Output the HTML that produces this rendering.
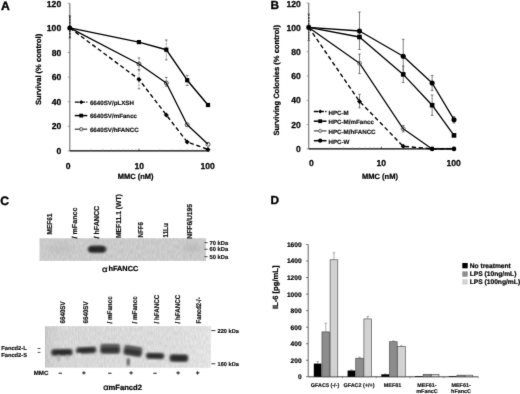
<!DOCTYPE html>
<html><head><meta charset="utf-8"><title>Figure</title>
<style>
html,body{margin:0;padding:0;background:#fff;}
body{width:520px;height:394px;overflow:hidden;font-family:"Liberation Sans",sans-serif;}
svg{display:block;text-rendering:geometricPrecision;}
</style></head><body>
<svg width="520" height="394" viewBox="0 0 520 394" font-family="Liberation Sans, sans-serif" font-weight="bold">
<rect width="520" height="394" fill="#fff"/>
<defs>
<filter id="bl1" x="-30%" y="-60%" width="160%" height="220%"><feGaussianBlur stdDeviation="1.1"/></filter>
<filter id="bl2" x="-30%" y="-60%" width="160%" height="220%"><feGaussianBlur stdDeviation="0.8"/></filter>
<filter id="bl3" x="-30%" y="-60%" width="160%" height="220%"><feGaussianBlur stdDeviation="2.5"/></filter>
<linearGradient id="g2" x1="0" x2="1" y1="0" y2="0"><stop offset="0" stop-color="#cacaca"/><stop offset="0.10" stop-color="#d6d6d6"/><stop offset="0.8" stop-color="#dcdcdc"/><stop offset="1" stop-color="#e3e3e3"/></linearGradient>
<filter id="soft" x="0" y="0" width="520" height="394" filterUnits="userSpaceOnUse" color-interpolation-filters="sRGB"><feConvolveMatrix order="3" kernelMatrix="0.012 0.07 0.012 0.07 0.672 0.07 0.012 0.07 0.012" edgeMode="duplicate" preserveAlpha="false"/></filter>
<filter id="nz" x="0" y="0" width="1" height="1" color-interpolation-filters="sRGB"><feTurbulence type="fractalNoise" baseFrequency="0.7 0.22" numOctaves="2" seed="5" result="t"/><feColorMatrix in="t" type="matrix" values="1 0 0 0 0  1 0 0 0 0  1 0 0 0 0  0 0 0 0 1" result="g"/><feComposite in="SourceGraphic" in2="g" operator="arithmetic" k1="0" k2="1" k3="0.12" k4="-0.06"/></filter>
</defs>
<g filter="url(#soft)" stroke-linecap="butt">
<text x="0.9" y="9.9" font-size="12.2" text-anchor="start" fill="#000" stroke="#000" stroke-width="0.366" >A</text>
<line x1="69.80" y1="3.30" x2="69.80" y2="150.90" stroke="#7c7c7c" stroke-width="1.2" />
<line x1="69.80" y1="150.90" x2="209.50" y2="150.90" stroke="#000" stroke-width="1.4" />
<line x1="67.80" y1="150.90" x2="69.80" y2="150.90" stroke="#7c7c7c" stroke-width="0.8" />
<text x="61.2" y="154.0" font-size="8.6" text-anchor="end" fill="#000" stroke="#000" stroke-width="0.258" >0</text>
<line x1="67.80" y1="126.30" x2="69.80" y2="126.30" stroke="#7c7c7c" stroke-width="0.8" />
<text x="61.2" y="129.4" font-size="8.6" text-anchor="end" fill="#000" stroke="#000" stroke-width="0.258" >20</text>
<line x1="67.80" y1="101.70" x2="69.80" y2="101.70" stroke="#7c7c7c" stroke-width="0.8" />
<text x="61.2" y="104.8" font-size="8.6" text-anchor="end" fill="#000" stroke="#000" stroke-width="0.258" >40</text>
<line x1="67.80" y1="77.10" x2="69.80" y2="77.10" stroke="#7c7c7c" stroke-width="0.8" />
<text x="61.2" y="80.19999999999999" font-size="8.6" text-anchor="end" fill="#000" stroke="#000" stroke-width="0.258" >60</text>
<line x1="67.80" y1="52.50" x2="69.80" y2="52.50" stroke="#7c7c7c" stroke-width="0.8" />
<text x="61.2" y="55.6" font-size="8.6" text-anchor="end" fill="#000" stroke="#000" stroke-width="0.258" >80</text>
<line x1="67.80" y1="27.90" x2="69.80" y2="27.90" stroke="#7c7c7c" stroke-width="0.8" />
<text x="61.2" y="31.000000000000007" font-size="8.6" text-anchor="end" fill="#000" stroke="#000" stroke-width="0.258" >100</text>
<line x1="67.80" y1="3.30" x2="69.80" y2="3.30" stroke="#7c7c7c" stroke-width="0.8" />
<text x="61.2" y="7.199999999999982" font-size="8.6" text-anchor="end" fill="#000" stroke="#000" stroke-width="0.258" >120</text>
<line x1="90.77" y1="149.40" x2="90.77" y2="150.90" stroke="#777" stroke-width="0.6" />
<line x1="102.92" y1="149.40" x2="102.92" y2="150.90" stroke="#777" stroke-width="0.6" />
<line x1="111.54" y1="149.40" x2="111.54" y2="150.90" stroke="#777" stroke-width="0.6" />
<line x1="118.23" y1="149.40" x2="118.23" y2="150.90" stroke="#777" stroke-width="0.6" />
<line x1="123.69" y1="149.40" x2="123.69" y2="150.90" stroke="#777" stroke-width="0.6" />
<line x1="128.31" y1="149.40" x2="128.31" y2="150.90" stroke="#777" stroke-width="0.6" />
<line x1="132.31" y1="149.40" x2="132.31" y2="150.90" stroke="#777" stroke-width="0.6" />
<line x1="135.84" y1="149.40" x2="135.84" y2="150.90" stroke="#777" stroke-width="0.6" />
<line x1="159.77" y1="149.40" x2="159.77" y2="150.90" stroke="#777" stroke-width="0.6" />
<line x1="171.92" y1="149.40" x2="171.92" y2="150.90" stroke="#777" stroke-width="0.6" />
<line x1="180.54" y1="149.40" x2="180.54" y2="150.90" stroke="#777" stroke-width="0.6" />
<line x1="187.23" y1="149.40" x2="187.23" y2="150.90" stroke="#777" stroke-width="0.6" />
<line x1="192.69" y1="149.40" x2="192.69" y2="150.90" stroke="#777" stroke-width="0.6" />
<line x1="197.31" y1="149.40" x2="197.31" y2="150.90" stroke="#777" stroke-width="0.6" />
<line x1="201.31" y1="149.40" x2="201.31" y2="150.90" stroke="#777" stroke-width="0.6" />
<line x1="204.84" y1="149.40" x2="204.84" y2="150.90" stroke="#777" stroke-width="0.6" />
<line x1="139.00" y1="148.70" x2="139.00" y2="150.90" stroke="#222" stroke-width="0.8" />
<line x1="208.00" y1="148.70" x2="208.00" y2="150.90" stroke="#222" stroke-width="0.8" />
<text x="68.2" y="168.5" font-size="8.6" text-anchor="middle" fill="#000" stroke="#000" stroke-width="0.258" >0</text>
<text x="139.2" y="168.5" font-size="8.6" text-anchor="middle" fill="#000" stroke="#000" stroke-width="0.258" >10</text>
<text x="207.7" y="168.5" font-size="8.6" text-anchor="middle" fill="#000" stroke="#000" stroke-width="0.258" >100</text>
<text x="135.6" y="178.9" font-size="7.5" text-anchor="middle" fill="#000" stroke="#000" stroke-width="0.225" >MMC (nM)</text>
<text x="40.6" y="69.4" font-size="7.6" text-anchor="middle" fill="#000" stroke="#000" stroke-width="0.228" transform="rotate(-90 40.6 69.4)" >Survival (% control)</text>
<line x1="69.80" y1="15.70" x2="69.80" y2="38.00" stroke="#2a2a2a" stroke-width="1.5" stroke-dasharray="2.2,0.7"/>
<line x1="68.50" y1="15.70" x2="71.10" y2="15.70" stroke="#5a5a5a" stroke-width="0.8" />
<line x1="68.50" y1="38.00" x2="71.10" y2="38.00" stroke="#5a5a5a" stroke-width="0.8" />
<line x1="166.30" y1="40.00" x2="166.30" y2="59.90" stroke="#7a7a7a" stroke-width="0.75" stroke-dasharray="2.2,0.7"/>
<line x1="165.00" y1="40.00" x2="167.60" y2="40.00" stroke="#5a5a5a" stroke-width="0.8" />
<line x1="165.00" y1="59.90" x2="167.60" y2="59.90" stroke="#5a5a5a" stroke-width="0.8" />
<line x1="139.00" y1="57.90" x2="139.00" y2="69.80" stroke="#7a7a7a" stroke-width="0.75" stroke-dasharray="2.2,0.7"/>
<line x1="137.70" y1="57.90" x2="140.30" y2="57.90" stroke="#5a5a5a" stroke-width="0.8" />
<line x1="137.70" y1="69.80" x2="140.30" y2="69.80" stroke="#5a5a5a" stroke-width="0.8" />
<line x1="139.00" y1="69.80" x2="139.00" y2="88.80" stroke="#7a7a7a" stroke-width="0.75" stroke-dasharray="2.2,0.7"/>
<line x1="137.70" y1="69.80" x2="140.30" y2="69.80" stroke="#5a5a5a" stroke-width="0.8" />
<line x1="137.70" y1="88.80" x2="140.30" y2="88.80" stroke="#5a5a5a" stroke-width="0.8" />
<line x1="166.30" y1="77.40" x2="166.30" y2="86.30" stroke="#7a7a7a" stroke-width="0.75" stroke-dasharray="2.2,0.7"/>
<line x1="165.00" y1="77.40" x2="167.60" y2="77.40" stroke="#5a5a5a" stroke-width="0.8" />
<line x1="165.00" y1="86.30" x2="167.60" y2="86.30" stroke="#5a5a5a" stroke-width="0.8" />
<line x1="187.20" y1="75.40" x2="187.20" y2="85.50" stroke="#7a7a7a" stroke-width="0.75" stroke-dasharray="2.2,0.7"/>
<line x1="185.90" y1="75.40" x2="188.50" y2="75.40" stroke="#5a5a5a" stroke-width="0.8" />
<line x1="185.90" y1="85.50" x2="188.50" y2="85.50" stroke="#5a5a5a" stroke-width="0.8" />
<polyline points="69.80,27.90 139.00,79.40 166.30,114.90 187.20,142.00 208.00,149.40" fill="none" stroke="#000" stroke-width="1.4" stroke-dasharray="4.2,2.8" stroke-linejoin="round"/>
<polyline points="69.80,27.90 138.90,42.10 166.30,49.70 187.20,80.20 208.00,105.00" fill="none" stroke="#000" stroke-width="1.45" stroke-linejoin="round"/>
<polyline points="69.80,27.90 139.00,64.00 166.30,83.00 187.20,124.80 208.00,144.30" fill="none" stroke="#000" stroke-width="1.3" stroke-linejoin="round"/>
<polygon points="136.50,79.40 139.00,76.90 141.50,79.40 139.00,81.90" fill="#000"/>
<polygon points="163.80,114.90 166.30,112.40 168.80,114.90 166.30,117.40" fill="#000"/>
<polygon points="184.70,142.00 187.20,139.50 189.70,142.00 187.20,144.50" fill="#000"/>
<polygon points="205.50,149.40 208.00,146.90 210.50,149.40 208.00,151.90" fill="#000"/>
<rect x="136.80" y="40.00" width="4.2" height="4.2" fill="#000"/>
<rect x="164.20" y="47.60" width="4.2" height="4.2" fill="#000"/>
<rect x="185.10" y="78.10" width="4.2" height="4.2" fill="#000"/>
<rect x="205.90" y="102.90" width="4.2" height="4.2" fill="#000"/>
<circle cx="139.00" cy="64.00" r="2.0" fill="none" stroke="#222" stroke-width="0.8"/>
<circle cx="166.30" cy="83.00" r="2.0" fill="none" stroke="#222" stroke-width="0.8"/>
<circle cx="187.20" cy="124.80" r="2.0" fill="none" stroke="#222" stroke-width="0.8"/>
<circle cx="208.00" cy="144.30" r="2.0" fill="none" stroke="#222" stroke-width="0.8"/>
<circle cx="69.80" cy="27.90" r="2.5" fill="#000" stroke="none" stroke-width="0.8"/>
<line x1="74.80" y1="102.20" x2="87.30" y2="102.20" stroke="#000" stroke-width="1.3" stroke-dasharray="4.4,1.3"/>
<polygon points="79.10,102.20 81.20,100.10 83.30,102.20 81.20,104.30" fill="#000"/>
<text x="89.9" y="105.0" font-size="6.2" text-anchor="start" fill="#111" stroke="#111" stroke-width="0.186" >6640SV/pLXSH</text>
<line x1="74.80" y1="115.60" x2="87.30" y2="115.60" stroke="#000" stroke-width="1.5" />
<rect x="79.30" y="113.70" width="3.8" height="3.8" fill="#000"/>
<text x="89.9" y="118.39999999999999" font-size="6.2" text-anchor="start" fill="#111" stroke="#111" stroke-width="0.186" >6640SV/mFancc</text>
<line x1="74.80" y1="129.20" x2="87.30" y2="129.20" stroke="#444" stroke-width="1.3" />
<circle cx="81.20" cy="129.20" r="1.7" fill="#d0d0d0" stroke="#444" stroke-width="0.8"/>
<text x="89.9" y="132.0" font-size="6.2" text-anchor="start" fill="#111" stroke="#111" stroke-width="0.186" >6640SV/hFANCC</text>
<text x="270.5" y="9.4" font-size="11.8" text-anchor="start" fill="#000" stroke="#000" stroke-width="0.354" >B</text>
<line x1="308.70" y1="3.10" x2="308.70" y2="148.90" stroke="#7c7c7c" stroke-width="1.2" />
<line x1="308.70" y1="148.90" x2="455.50" y2="148.90" stroke="#000" stroke-width="1.4" />
<line x1="306.70" y1="148.90" x2="308.70" y2="148.90" stroke="#7c7c7c" stroke-width="0.8" />
<text x="300.9" y="152.0" font-size="8.6" text-anchor="end" fill="#000" stroke="#000" stroke-width="0.258" >0</text>
<line x1="306.70" y1="124.60" x2="308.70" y2="124.60" stroke="#7c7c7c" stroke-width="0.8" />
<text x="300.9" y="127.7" font-size="8.6" text-anchor="end" fill="#000" stroke="#000" stroke-width="0.258" >20</text>
<line x1="306.70" y1="100.30" x2="308.70" y2="100.30" stroke="#7c7c7c" stroke-width="0.8" />
<text x="300.9" y="103.4" font-size="8.6" text-anchor="end" fill="#000" stroke="#000" stroke-width="0.258" >40</text>
<line x1="306.70" y1="76.00" x2="308.70" y2="76.00" stroke="#7c7c7c" stroke-width="0.8" />
<text x="300.9" y="79.1" font-size="8.6" text-anchor="end" fill="#000" stroke="#000" stroke-width="0.258" >60</text>
<line x1="306.70" y1="51.70" x2="308.70" y2="51.70" stroke="#7c7c7c" stroke-width="0.8" />
<text x="300.9" y="54.800000000000004" font-size="8.6" text-anchor="end" fill="#000" stroke="#000" stroke-width="0.258" >80</text>
<line x1="306.70" y1="27.40" x2="308.70" y2="27.40" stroke="#7c7c7c" stroke-width="0.8" />
<text x="300.9" y="30.500000000000007" font-size="8.6" text-anchor="end" fill="#000" stroke="#000" stroke-width="0.258" >100</text>
<line x1="306.70" y1="3.10" x2="308.70" y2="3.10" stroke="#7c7c7c" stroke-width="0.8" />
<text x="300.9" y="6.799999999999994" font-size="8.6" text-anchor="end" fill="#000" stroke="#000" stroke-width="0.258" >120</text>
<line x1="330.57" y1="147.40" x2="330.57" y2="148.90" stroke="#777" stroke-width="0.6" />
<line x1="343.36" y1="147.40" x2="343.36" y2="148.90" stroke="#777" stroke-width="0.6" />
<line x1="352.44" y1="147.40" x2="352.44" y2="148.90" stroke="#777" stroke-width="0.6" />
<line x1="359.48" y1="147.40" x2="359.48" y2="148.90" stroke="#777" stroke-width="0.6" />
<line x1="365.23" y1="147.40" x2="365.23" y2="148.90" stroke="#777" stroke-width="0.6" />
<line x1="370.10" y1="147.40" x2="370.10" y2="148.90" stroke="#777" stroke-width="0.6" />
<line x1="374.31" y1="147.40" x2="374.31" y2="148.90" stroke="#777" stroke-width="0.6" />
<line x1="378.03" y1="147.40" x2="378.03" y2="148.90" stroke="#777" stroke-width="0.6" />
<line x1="403.22" y1="147.40" x2="403.22" y2="148.90" stroke="#777" stroke-width="0.6" />
<line x1="416.01" y1="147.40" x2="416.01" y2="148.90" stroke="#777" stroke-width="0.6" />
<line x1="425.09" y1="147.40" x2="425.09" y2="148.90" stroke="#777" stroke-width="0.6" />
<line x1="432.13" y1="147.40" x2="432.13" y2="148.90" stroke="#777" stroke-width="0.6" />
<line x1="437.88" y1="147.40" x2="437.88" y2="148.90" stroke="#777" stroke-width="0.6" />
<line x1="442.75" y1="147.40" x2="442.75" y2="148.90" stroke="#777" stroke-width="0.6" />
<line x1="446.96" y1="147.40" x2="446.96" y2="148.90" stroke="#777" stroke-width="0.6" />
<line x1="450.68" y1="147.40" x2="450.68" y2="148.90" stroke="#777" stroke-width="0.6" />
<line x1="381.35" y1="146.70" x2="381.35" y2="148.90" stroke="#222" stroke-width="0.8" />
<line x1="454.00" y1="146.70" x2="454.00" y2="148.90" stroke="#222" stroke-width="0.8" />
<text x="311.5" y="166.1" font-size="8.6" text-anchor="middle" fill="#000" stroke="#000" stroke-width="0.258" >0</text>
<text x="381.3" y="166.1" font-size="8.6" text-anchor="middle" fill="#000" stroke="#000" stroke-width="0.258" >10</text>
<text x="453.7" y="166.1" font-size="8.6" text-anchor="middle" fill="#000" stroke="#000" stroke-width="0.258" >100</text>
<text x="380.0" y="178.9" font-size="7.5" text-anchor="middle" fill="#000" stroke="#000" stroke-width="0.225" >MMC (nM)</text>
<text x="279.0" y="80.3" font-size="7.6" text-anchor="middle" fill="#000" stroke="#000" stroke-width="0.228" transform="rotate(-90 279.0 80.3)" >Surviving Colonies (% control)</text>
<line x1="308.70" y1="14.00" x2="308.70" y2="40.60" stroke="#333" stroke-width="1.4" stroke-dasharray="2.2,0.7"/>
<line x1="307.40" y1="14.00" x2="310.00" y2="14.00" stroke="#5a5a5a" stroke-width="0.8" />
<line x1="307.40" y1="40.60" x2="310.00" y2="40.60" stroke="#5a5a5a" stroke-width="0.8" />
<line x1="359.48" y1="12.00" x2="359.48" y2="49.50" stroke="#606060" stroke-width="0.8" />
<line x1="358.23" y1="12.00" x2="360.73" y2="12.00" stroke="#5a5a5a" stroke-width="0.8" />
<line x1="358.23" y1="49.50" x2="360.73" y2="49.50" stroke="#5a5a5a" stroke-width="0.8" />
<line x1="359.48" y1="54.00" x2="359.48" y2="73.60" stroke="#606060" stroke-width="0.8" />
<line x1="358.23" y1="54.00" x2="360.73" y2="54.00" stroke="#5a5a5a" stroke-width="0.8" />
<line x1="358.23" y1="73.60" x2="360.73" y2="73.60" stroke="#5a5a5a" stroke-width="0.8" />
<line x1="359.48" y1="94.30" x2="359.48" y2="107.80" stroke="#606060" stroke-width="0.8" />
<line x1="358.23" y1="94.30" x2="360.73" y2="94.30" stroke="#5a5a5a" stroke-width="0.8" />
<line x1="358.23" y1="107.80" x2="360.73" y2="107.80" stroke="#5a5a5a" stroke-width="0.8" />
<line x1="403.22" y1="39.30" x2="403.22" y2="73.00" stroke="#606060" stroke-width="0.8" />
<line x1="401.97" y1="39.30" x2="404.47" y2="39.30" stroke="#5a5a5a" stroke-width="0.8" />
<line x1="401.97" y1="73.00" x2="404.47" y2="73.00" stroke="#5a5a5a" stroke-width="0.8" />
<line x1="403.22" y1="66.00" x2="403.22" y2="82.50" stroke="#606060" stroke-width="0.8" />
<line x1="401.97" y1="66.00" x2="404.47" y2="66.00" stroke="#5a5a5a" stroke-width="0.8" />
<line x1="401.97" y1="82.50" x2="404.47" y2="82.50" stroke="#5a5a5a" stroke-width="0.8" />
<line x1="432.13" y1="75.40" x2="432.13" y2="90.60" stroke="#606060" stroke-width="0.8" />
<line x1="430.88" y1="75.40" x2="433.38" y2="75.40" stroke="#5a5a5a" stroke-width="0.8" />
<line x1="430.88" y1="90.60" x2="433.38" y2="90.60" stroke="#5a5a5a" stroke-width="0.8" />
<line x1="432.13" y1="95.00" x2="432.13" y2="115.40" stroke="#606060" stroke-width="0.8" />
<line x1="430.88" y1="95.00" x2="433.38" y2="95.00" stroke="#5a5a5a" stroke-width="0.8" />
<line x1="430.88" y1="115.40" x2="433.38" y2="115.40" stroke="#5a5a5a" stroke-width="0.8" />
<line x1="454.00" y1="116.60" x2="454.00" y2="123.00" stroke="#606060" stroke-width="0.8" />
<line x1="452.75" y1="116.60" x2="455.25" y2="116.60" stroke="#5a5a5a" stroke-width="0.8" />
<line x1="452.75" y1="123.00" x2="455.25" y2="123.00" stroke="#5a5a5a" stroke-width="0.8" />
<line x1="403.22" y1="125.50" x2="403.22" y2="131.90" stroke="#606060" stroke-width="0.8" />
<line x1="401.97" y1="125.50" x2="404.47" y2="125.50" stroke="#5a5a5a" stroke-width="0.8" />
<line x1="401.97" y1="131.90" x2="404.47" y2="131.90" stroke="#5a5a5a" stroke-width="0.8" />
<polyline points="308.70,27.40 359.48,101.40 403.22,146.30 432.13,148.90 454.00,148.90" fill="none" stroke="#000" stroke-width="1.4" stroke-dasharray="4.2,2.8" stroke-linejoin="round"/>
<polyline points="308.70,27.40 359.48,63.20 403.22,128.80 432.13,148.90 454.00,148.90" fill="none" stroke="#000" stroke-width="1.2" stroke-linejoin="round"/>
<polyline points="308.70,27.40 359.48,37.00 403.22,74.40 432.13,105.20 454.00,135.40" fill="none" stroke="#000" stroke-width="1.3" stroke-linejoin="round"/>
<polyline points="308.70,27.40 359.48,31.00 403.22,56.30 432.13,83.00 454.00,119.70" fill="none" stroke="#000" stroke-width="1.3" stroke-linejoin="round"/>
<polygon points="356.98,101.40 359.48,98.90 361.98,101.40 359.48,103.90" fill="#000"/>
<polygon points="400.72,146.30 403.22,143.80 405.72,146.30 403.22,148.80" fill="#000"/>
<circle cx="359.48" cy="63.20" r="2.0" fill="none" stroke="#555" stroke-width="0.8"/>
<circle cx="403.22" cy="128.80" r="2.0" fill="none" stroke="#555" stroke-width="0.8"/>
<rect x="357.18" y="34.70" width="4.6" height="4.6" fill="#000"/>
<rect x="400.92" y="72.10" width="4.6" height="4.6" fill="#000"/>
<rect x="429.83" y="102.90" width="4.6" height="4.6" fill="#000"/>
<rect x="451.70" y="133.10" width="4.6" height="4.6" fill="#000"/>
<circle cx="359.48" cy="31.00" r="2.55" fill="#000" stroke="none" stroke-width="0.8"/>
<circle cx="403.22" cy="56.30" r="2.55" fill="#000" stroke="none" stroke-width="0.8"/>
<circle cx="432.13" cy="83.00" r="2.55" fill="#000" stroke="none" stroke-width="0.8"/>
<circle cx="454.00" cy="119.70" r="2.55" fill="#000" stroke="none" stroke-width="0.8"/>
<circle cx="432.13" cy="148.90" r="2.3" fill="#000" stroke="none" stroke-width="0.8"/>
<circle cx="454.00" cy="148.90" r="2.3" fill="#000" stroke="none" stroke-width="0.8"/>
<rect x="306.70" y="25.40" width="4.0" height="4.0" fill="#000"/>
<circle cx="308.70" cy="27.40" r="2.3" fill="#000" stroke="none" stroke-width="0.8"/>
<line x1="313.80" y1="111.50" x2="326.50" y2="111.50" stroke="#000" stroke-width="1.3" stroke-dasharray="4.4,1.3"/>
<polygon points="318.10,111.50 320.20,109.40 322.30,111.50 320.20,113.60" fill="#000"/>
<text x="328.5" y="114.5" font-size="6.2" text-anchor="start" fill="#111" stroke="#111" stroke-width="0.186" >HPC-M</text>
<line x1="313.80" y1="121.20" x2="326.50" y2="121.20" stroke="#000" stroke-width="1.5" />
<rect x="318.30" y="119.30" width="3.8" height="3.8" fill="#000"/>
<text x="328.5" y="124.2" font-size="6.2" text-anchor="start" fill="#111" stroke="#111" stroke-width="0.186" >HPC-M/mFancc</text>
<line x1="313.80" y1="130.90" x2="326.50" y2="130.90" stroke="#555" stroke-width="1.3" />
<circle cx="320.20" cy="130.90" r="1.7" fill="#c4c4c4" stroke="#666" stroke-width="0.8"/>
<text x="328.5" y="133.9" font-size="6.2" text-anchor="start" fill="#111" stroke="#111" stroke-width="0.186" >HPC-M/hFANCC</text>
<line x1="313.80" y1="140.70" x2="326.50" y2="140.70" stroke="#000" stroke-width="1.5" />
<circle cx="320.20" cy="140.70" r="2.1" fill="#000" stroke="none" stroke-width="0.8"/>
<text x="328.5" y="143.7" font-size="6.2" text-anchor="start" fill="#111" stroke="#111" stroke-width="0.186" >HPC-W</text>
<text x="0.3" y="204.7" font-size="12.2" text-anchor="start" fill="#000" stroke="#000" stroke-width="0.366" >C</text>
<rect x="39.8" y="238.5" width="166.2" height="22.1" fill="#cacaca" filter="url(#nz)"/>
<rect x="88.6" y="246.2" width="16.8" height="6.0" rx="2.6" fill="#050505" filter="url(#bl1)"/>
<ellipse cx="97.3" cy="249.2" rx="10" ry="3.6" fill="#444" opacity="0.55" filter="url(#bl1)"/>
<ellipse cx="192" cy="248" rx="9" ry="4" fill="#aaa" opacity="0.5" filter="url(#bl3)"/>
<ellipse cx="60" cy="249" rx="12" ry="4" fill="#b5b5b5" opacity="0.5" filter="url(#bl3)"/>
<text x="52.092" y="234.4" font-size="7.2" text-anchor="start" fill="#111" stroke="#111" stroke-width="0.216" transform="rotate(-90 52.092 234.4)" textLength="20.8" lengthAdjust="spacingAndGlyphs">MEF61</text>
<text x="76.792" y="238.4" font-size="7.2" text-anchor="start" fill="#111" stroke="#111" stroke-width="0.216" transform="rotate(-90 76.792 238.4)" textLength="30.8" lengthAdjust="spacingAndGlyphs">/ mFancc</text>
<text x="98.992" y="238.4" font-size="7.2" text-anchor="start" fill="#111" stroke="#111" stroke-width="0.216" transform="rotate(-90 98.992 238.4)" textLength="32.6" lengthAdjust="spacingAndGlyphs">/ hFANCC</text>
<text x="121.292" y="238.0" font-size="7.2" text-anchor="start" fill="#111" stroke="#111" stroke-width="0.216" transform="rotate(-90 121.292 238.0)" textLength="43.8" lengthAdjust="spacingAndGlyphs">MEF11.1 (WT)</text>
<text x="142.99200000000002" y="237.5" font-size="7.2" text-anchor="start" fill="#111" stroke="#111" stroke-width="0.216" transform="rotate(-90 142.99200000000002 237.5)" textLength="15.3" lengthAdjust="spacingAndGlyphs">NFF6</text>
<text x="167.99200000000002" y="237.5" font-size="7.2" text-anchor="start" fill="#111" stroke="#111" stroke-width="0.216" transform="rotate(-90 167.99200000000002 237.5)" textLength="14.3" lengthAdjust="spacingAndGlyphs">11Lu</text>
<text x="191.99200000000002" y="238.7" font-size="7.2" text-anchor="start" fill="#111" stroke="#111" stroke-width="0.216" transform="rotate(-90 191.99200000000002 238.7)" textLength="34.8" lengthAdjust="spacingAndGlyphs">NFF6/U195</text>
<line x1="204.40" y1="242.70" x2="207.60" y2="242.70" stroke="#222" stroke-width="0.8" />
<text x="209.5" y="244.79999999999998" font-size="5.8" text-anchor="start" fill="#111" stroke="#111" stroke-width="0.174" >70 kDa</text>
<line x1="204.40" y1="249.30" x2="207.60" y2="249.30" stroke="#222" stroke-width="0.8" />
<text x="209.5" y="251.4" font-size="5.8" text-anchor="start" fill="#111" stroke="#111" stroke-width="0.174" >60 kDa</text>
<line x1="204.40" y1="256.70" x2="207.60" y2="256.70" stroke="#222" stroke-width="0.8" />
<text x="209.5" y="258.8" font-size="5.8" text-anchor="start" fill="#111" stroke="#111" stroke-width="0.174" >50 kDa</text>
<text x="102.0" y="271.5" font-size="8.2" text-anchor="start" fill="#000" stroke="#000" stroke-width="0.246" font-weight="normal" textLength="5.6" lengthAdjust="spacingAndGlyphs">α</text>
<text x="108.5" y="271.4" font-size="7.35" text-anchor="start" fill="#000" stroke="#000" stroke-width="0.220" >hFANCC</text>
<rect x="45.1" y="326.5" width="165.2" height="40.8" fill="url(#g2)" filter="url(#nz)"/>
<g transform="rotate(-1.0 61.90 352.3)">
<rect x="51.10" y="349.00" width="21.60" height="6.60" rx="2.4" fill="#666" filter="url(#bl2)"/>
<rect x="52.30" y="349.90" width="19.20" height="4.80" rx="2.0" fill="#2c2c2c" filter="url(#bl2)"/>
</g>
<g transform="rotate(-3.0 86.20 350.3)">
<rect x="76.00" y="347.10" width="20.40" height="6.40" rx="2.4" fill="#666" filter="url(#bl2)"/>
<rect x="77.20" y="348.00" width="18.00" height="4.60" rx="2.0" fill="#2c2c2c" filter="url(#bl2)"/>
</g>
<g transform="rotate(0 110.20 348.9)">
<rect x="100.20" y="344.00" width="20.00" height="9.80" rx="2.4" fill="#6e6e6e" filter="url(#bl2)"/>
<rect x="101.20" y="347.00" width="18.00" height="5.80" rx="2.2" fill="#343434" filter="url(#bl2)"/>
<rect x="101.70" y="344.90" width="17.00" height="1.6" rx="0.8" fill="#4a4a4a" filter="url(#bl2)"/>
</g>
<g transform="rotate(9.0 132.90 351.0)">
<rect x="123.60" y="346.10" width="18.60" height="9.80" rx="2.4" fill="#6e6e6e" filter="url(#bl2)"/>
<rect x="124.60" y="349.10" width="16.60" height="5.80" rx="2.2" fill="#343434" filter="url(#bl2)"/>
<rect x="125.10" y="347.00" width="15.60" height="1.6" rx="0.8" fill="#4a4a4a" filter="url(#bl2)"/>
</g>
<g transform="rotate(1.5 155.10 355.9)">
<rect x="145.80" y="352.90" width="18.60" height="6.00" rx="2.4" fill="#666" filter="url(#bl2)"/>
<rect x="147.00" y="353.80" width="16.20" height="4.20" rx="2.0" fill="#2c2c2c" filter="url(#bl2)"/>
</g>
<g transform="rotate(1.0 178.90 358.1)">
<rect x="169.50" y="354.40" width="18.80" height="7.40" rx="2.4" fill="#666" filter="url(#bl2)"/>
<rect x="170.70" y="355.30" width="16.40" height="5.60" rx="2.0" fill="#2c2c2c" filter="url(#bl2)"/>
</g>
<rect x="127.0" y="358.5" width="2.4" height="7" fill="#444" filter="url(#bl2)"/>
<rect x="57.5" y="355" width="2.2" height="6" fill="#aaa" filter="url(#bl2)"/>
<rect x="66.5" y="355" width="2.0" height="5" fill="#b4b4b4" filter="url(#bl2)"/>
<circle cx="79.3" cy="354.8" r="1.8" fill="#ececec" filter="url(#bl2)"/>
<rect x="78.3" y="356" width="1.8" height="9" fill="#dcdcdc" filter="url(#bl2)"/>
<text x="65.084" y="323.4" font-size="6.9" text-anchor="start" fill="#111" stroke="#111" stroke-width="0.207" transform="rotate(-90 65.084 323.4)" textLength="22.0" lengthAdjust="spacingAndGlyphs">6640SV</text>
<text x="87.78399999999999" y="323.4" font-size="6.9" text-anchor="start" fill="#111" stroke="#111" stroke-width="0.207" transform="rotate(-90 87.78399999999999 323.4)" textLength="22.0" lengthAdjust="spacingAndGlyphs">6640SV</text>
<text x="111.78399999999999" y="323.4" font-size="6.9" text-anchor="start" fill="#111" stroke="#111" stroke-width="0.207" transform="rotate(-90 111.78399999999999 323.4)" textLength="27.0" lengthAdjust="spacingAndGlyphs">/ mFancc</text>
<text x="136.584" y="323.4" font-size="6.9" text-anchor="start" fill="#111" stroke="#111" stroke-width="0.207" transform="rotate(-90 136.584 323.4)" textLength="27.0" lengthAdjust="spacingAndGlyphs">/ mFancc</text>
<text x="158.88400000000001" y="323.4" font-size="6.9" text-anchor="start" fill="#111" stroke="#111" stroke-width="0.207" transform="rotate(-90 158.88400000000001 323.4)" textLength="28.6" lengthAdjust="spacingAndGlyphs">/ hFANCC</text>
<text x="180.184" y="323.4" font-size="6.9" text-anchor="start" fill="#111" stroke="#111" stroke-width="0.207" transform="rotate(-90 180.184 323.4)" textLength="28.6" lengthAdjust="spacingAndGlyphs">/ hFANCC</text>
<text x="200.684" y="323.4" font-size="6.9" text-anchor="start" fill="#111" stroke="#111" stroke-width="0.207" transform="rotate(-90 200.684 323.4)" textLength="26.0" lengthAdjust="spacingAndGlyphs">Fancd2-/-</text>
<line x1="211.30" y1="330.60" x2="215.40" y2="330.60" stroke="#222" stroke-width="0.9" />
<text x="217.6" y="332.70000000000005" font-size="5.65" text-anchor="start" fill="#111" stroke="#111" stroke-width="0.170" >220 kDa</text>
<line x1="211.30" y1="363.80" x2="215.40" y2="363.80" stroke="#222" stroke-width="0.9" />
<text x="217.6" y="365.90000000000003" font-size="5.65" text-anchor="start" fill="#111" stroke="#111" stroke-width="0.170" >160 kDa</text>
<text x="1.2" y="350.2" font-size="5.75" text-anchor="start" fill="#111" stroke="#111" stroke-width="0.172" >Fancd2-L</text>
<text x="1.2" y="356.9" font-size="5.75" text-anchor="start" fill="#111" stroke="#111" stroke-width="0.172" >Fancd2-S</text>
<line x1="37.60" y1="348.50" x2="40.40" y2="348.50" stroke="#222" stroke-width="0.8" />
<line x1="37.60" y1="352.40" x2="40.40" y2="352.40" stroke="#222" stroke-width="0.8" />
<text x="33.7" y="375.2" font-size="6.15" text-anchor="start" fill="#111" stroke="#111" stroke-width="0.184" >MMC</text>
<text x="60.4" y="375.1" font-size="6.4" text-anchor="middle" fill="#111" stroke="#111" stroke-width="0.192" >–</text>
<text x="83.8" y="375.1" font-size="6.4" text-anchor="middle" fill="#111" stroke="#111" stroke-width="0.192" >+</text>
<text x="109.8" y="375.1" font-size="6.4" text-anchor="middle" fill="#111" stroke="#111" stroke-width="0.192" >–</text>
<text x="131.0" y="375.1" font-size="6.4" text-anchor="middle" fill="#111" stroke="#111" stroke-width="0.192" >+</text>
<text x="155.1" y="375.1" font-size="6.4" text-anchor="middle" fill="#111" stroke="#111" stroke-width="0.192" >–</text>
<text x="178.1" y="375.1" font-size="6.4" text-anchor="middle" fill="#111" stroke="#111" stroke-width="0.192" >+</text>
<text x="197.5" y="375.1" font-size="6.4" text-anchor="middle" fill="#111" stroke="#111" stroke-width="0.192" >+</text>
<text x="103.2" y="390.2" font-size="8.2" text-anchor="start" fill="#000" stroke="#000" stroke-width="0.246" font-weight="normal" textLength="5.4" lengthAdjust="spacingAndGlyphs">α</text>
<text x="108.6" y="390.1" font-size="7.6" text-anchor="start" fill="#000" stroke="#000" stroke-width="0.228" >mFancd2</text>
<text x="270.5" y="204.2" font-size="11.8" text-anchor="start" fill="#000" stroke="#000" stroke-width="0.354" >D</text>
<line x1="308.20" y1="244.48" x2="308.20" y2="376.80" stroke="#555" stroke-width="0.9" />
<line x1="308.20" y1="376.80" x2="478.30" y2="376.80" stroke="#333" stroke-width="0.9" />
<line x1="306.00" y1="376.80" x2="308.20" y2="376.80" stroke="#555" stroke-width="0.8" />
<text x="301.6" y="379.2" font-size="6.6" text-anchor="end" fill="#000" stroke="#000" stroke-width="0.198" >0</text>
<line x1="306.00" y1="360.26" x2="308.20" y2="360.26" stroke="#555" stroke-width="0.8" />
<text x="301.6" y="362.65999999999997" font-size="6.6" text-anchor="end" fill="#000" stroke="#000" stroke-width="0.198" >200</text>
<line x1="306.00" y1="343.72" x2="308.20" y2="343.72" stroke="#555" stroke-width="0.8" />
<text x="301.6" y="346.12" font-size="6.6" text-anchor="end" fill="#000" stroke="#000" stroke-width="0.198" >400</text>
<line x1="306.00" y1="327.18" x2="308.20" y2="327.18" stroke="#555" stroke-width="0.8" />
<text x="301.6" y="329.58" font-size="6.6" text-anchor="end" fill="#000" stroke="#000" stroke-width="0.198" >600</text>
<line x1="306.00" y1="310.64" x2="308.20" y2="310.64" stroke="#555" stroke-width="0.8" />
<text x="301.6" y="313.03999999999996" font-size="6.6" text-anchor="end" fill="#000" stroke="#000" stroke-width="0.198" >800</text>
<line x1="306.00" y1="294.10" x2="308.20" y2="294.10" stroke="#555" stroke-width="0.8" />
<text x="301.6" y="296.5" font-size="6.6" text-anchor="end" fill="#000" stroke="#000" stroke-width="0.198" >1000</text>
<line x1="306.00" y1="277.56" x2="308.20" y2="277.56" stroke="#555" stroke-width="0.8" />
<text x="301.6" y="279.96" font-size="6.6" text-anchor="end" fill="#000" stroke="#000" stroke-width="0.198" >1200</text>
<line x1="306.00" y1="261.02" x2="308.20" y2="261.02" stroke="#555" stroke-width="0.8" />
<text x="301.6" y="263.41999999999996" font-size="6.6" text-anchor="end" fill="#000" stroke="#000" stroke-width="0.198" >1400</text>
<line x1="306.00" y1="244.48" x2="308.20" y2="244.48" stroke="#555" stroke-width="0.8" />
<text x="301.6" y="246.88000000000002" font-size="6.6" text-anchor="end" fill="#000" stroke="#000" stroke-width="0.198" >1600</text>
<text x="277.9" y="287.3" font-size="7.6" text-anchor="middle" fill="#000" stroke="#000" stroke-width="0.228" transform="rotate(-90 277.9 287.3)" >IL-6 [pg/mL]</text>
<line x1="317.65" y1="363.57" x2="317.65" y2="361.50" stroke="#777" stroke-width="0.6" />
<line x1="316.45" y1="361.50" x2="318.85" y2="361.50" stroke="#777" stroke-width="0.6" />
<rect x="313.80" y="363.57" width="7.7" height="13.23" fill="#000"/>
<line x1="325.80" y1="331.89" x2="325.80" y2="323.21" stroke="#777" stroke-width="0.6" />
<line x1="324.60" y1="323.21" x2="327.00" y2="323.21" stroke="#777" stroke-width="0.6" />
<rect x="321.95" y="331.89" width="7.7" height="44.91" fill="#8c8c8c" stroke="#444" stroke-width="0.6"/>
<line x1="333.95" y1="259.78" x2="333.95" y2="252.75" stroke="#777" stroke-width="0.6" />
<line x1="332.75" y1="252.75" x2="335.15" y2="252.75" stroke="#777" stroke-width="0.6" />
<rect x="330.10" y="259.78" width="7.7" height="117.02" fill="#d2d2d2" stroke="#444" stroke-width="0.6"/>
<line x1="351.45" y1="370.51" x2="351.45" y2="369.85" stroke="#777" stroke-width="0.6" />
<line x1="350.25" y1="369.85" x2="352.65" y2="369.85" stroke="#777" stroke-width="0.6" />
<rect x="347.60" y="370.51" width="7.7" height="6.29" fill="#000"/>
<line x1="359.60" y1="358.19" x2="359.60" y2="357.20" stroke="#777" stroke-width="0.6" />
<line x1="358.40" y1="357.20" x2="360.80" y2="357.20" stroke="#777" stroke-width="0.6" />
<rect x="355.75" y="358.19" width="7.7" height="18.61" fill="#8c8c8c" stroke="#444" stroke-width="0.6"/>
<line x1="367.75" y1="318.91" x2="367.75" y2="316.43" stroke="#777" stroke-width="0.6" />
<line x1="366.55" y1="316.43" x2="368.95" y2="316.43" stroke="#777" stroke-width="0.6" />
<rect x="363.90" y="318.91" width="7.7" height="57.89" fill="#d2d2d2" stroke="#444" stroke-width="0.6"/>
<line x1="385.15" y1="374.32" x2="385.15" y2="373.91" stroke="#777" stroke-width="0.6" />
<line x1="383.95" y1="373.91" x2="386.35" y2="373.91" stroke="#777" stroke-width="0.6" />
<rect x="381.30" y="374.32" width="7.7" height="2.48" fill="#000"/>
<line x1="393.30" y1="341.74" x2="393.30" y2="340.91" stroke="#777" stroke-width="0.6" />
<line x1="392.10" y1="340.91" x2="394.50" y2="340.91" stroke="#777" stroke-width="0.6" />
<rect x="389.45" y="341.74" width="7.7" height="35.06" fill="#8c8c8c" stroke="#444" stroke-width="0.6"/>
<line x1="401.45" y1="346.53" x2="401.45" y2="345.70" stroke="#777" stroke-width="0.6" />
<line x1="400.25" y1="345.70" x2="402.65" y2="345.70" stroke="#777" stroke-width="0.6" />
<rect x="397.60" y="346.53" width="7.7" height="30.27" fill="#d2d2d2" stroke="#444" stroke-width="0.6"/>
<rect x="415.00" y="376.14" width="7.7" height="0.66" fill="#000"/>
<rect x="423.15" y="374.32" width="7.7" height="2.48" fill="#8c8c8c" stroke="#444" stroke-width="0.6"/>
<rect x="431.30" y="374.32" width="7.7" height="2.48" fill="#d2d2d2" stroke="#444" stroke-width="0.6"/>
<rect x="448.80" y="376.14" width="7.7" height="0.66" fill="#000"/>
<rect x="456.95" y="375.15" width="7.7" height="1.65" fill="#8c8c8c" stroke="#444" stroke-width="0.6"/>
<rect x="465.10" y="375.15" width="7.7" height="1.65" fill="#d2d2d2" stroke="#444" stroke-width="0.6"/>
<line x1="342.50" y1="376.80" x2="342.50" y2="378.30" stroke="#555" stroke-width="0.6" />
<line x1="376.30" y1="376.80" x2="376.30" y2="378.30" stroke="#555" stroke-width="0.6" />
<line x1="410.00" y1="376.80" x2="410.00" y2="378.30" stroke="#555" stroke-width="0.6" />
<line x1="443.80" y1="376.80" x2="443.80" y2="378.30" stroke="#555" stroke-width="0.6" />
<line x1="478.30" y1="376.80" x2="478.30" y2="378.30" stroke="#555" stroke-width="0.6" />
<text x="325" y="386.6" font-size="5.45" text-anchor="middle" fill="#111" stroke="#111" stroke-width="0.164" >GFAC5 (-/-)</text>
<text x="359" y="386.6" font-size="5.45" text-anchor="middle" fill="#111" stroke="#111" stroke-width="0.164" >GFAC2 (+/+)</text>
<text x="392.6" y="386.6" font-size="5.45" text-anchor="middle" fill="#111" stroke="#111" stroke-width="0.164" >MEF61</text>
<text x="427" y="386.6" font-size="5.45" text-anchor="middle" fill="#111" stroke="#111" stroke-width="0.164" >MEF61-</text>
<text x="427" y="393.1" font-size="5.45" text-anchor="middle" fill="#111" stroke="#111" stroke-width="0.164" >mFancC</text>
<text x="461.1" y="386.6" font-size="5.45" text-anchor="middle" fill="#111" stroke="#111" stroke-width="0.164" >MEF61-</text>
<text x="461.1" y="393.1" font-size="5.45" text-anchor="middle" fill="#111" stroke="#111" stroke-width="0.164" >hFancC</text>
<rect x="462.3" y="263" width="5.4" height="5.3" fill="#000"/>
<rect x="462.3" y="271.4" width="5.4" height="5.3" fill="#8c8c8c"/>
<rect x="462.3" y="279.3" width="5.4" height="5.3" fill="#d2d2d2"/>
<text x="469.7" y="267.9" font-size="6.68" text-anchor="start" fill="#000" stroke="#000" stroke-width="0.200" >No treatment</text>
<text x="469.7" y="276.2" font-size="6.68" text-anchor="start" fill="#000" stroke="#000" stroke-width="0.200" >LPS (10ng/mL)</text>
<text x="469.7" y="284.2" font-size="6.68" text-anchor="start" fill="#000" stroke="#000" stroke-width="0.200" >LPS (100ng/mL)</text>
</g>
</svg>
</body></html>
